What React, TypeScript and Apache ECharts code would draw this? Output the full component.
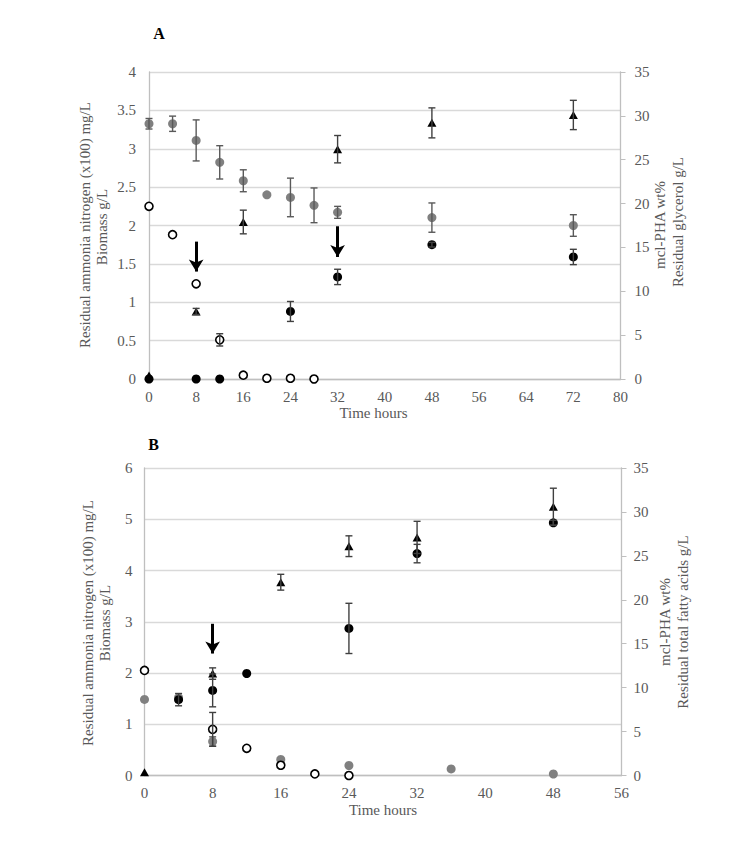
import React, { useEffect, useRef } from "react";
import * as echarts from "echarts";

// ---------- Panel A (glycerol) ----------
const xTicksA = [0, 8, 16, 24, 32, 40, 48, 56, 64, 72, 80];
const glycerolTimeA = [0, 4, 8, 12, 16, 20, 24, 28, 32, 48, 72];
const glycerolA = [29.1, 29.1, 27.2, 24.7, 22.6, 21.0, 20.7, 19.8, 19.0, 18.4, 17.5];
const glycerolErrA = [0.6, 0.87, 2.34, 1.9, 1.25, 0, 2.2, 1.98, 0.68, 1.67, 1.23];

const ammoniaTimeA = [0, 4, 8, 12, 16, 20, 24, 28];
const ammoniaA = [2.25, 1.88, 1.24, 0.51, 0.05, 0.01, 0.01, 0.0];
const ammoniaErrA = [0, 0, 0, 0.08, 0, 0, 0, 0];

const biomassTimeA = [0, 8, 12, 24, 32, 48, 72];
const biomassA = [0, 0, 0, 0.88, 1.33, 1.75, 1.59];
const biomassErrA = [0, 0, 0, 0.13, 0.1, 0.03, 0.1];

const phaTimeA = [0, 8, 16, 32, 48, 72];
const phaA = [0.4, 7.7, 17.9, 26.2, 29.2, 30.1];
const phaErrA = [0, 0.35, 1.35, 1.56, 1.71, 1.67];

const arrowsA = [
  { t: 8, from: 1.79, to: 1.4 },
  { t: 32, from: 1.99, to: 1.59 },
];

// ---------- Panel B (fatty acids) ----------
const xTicksB = [0, 8, 16, 24, 32, 40, 48, 56];
const fattyTimeB = [0, 4, 8, 16, 24, 36, 48];
const fattyB = [8.66, 8.87, 3.87, 1.83, 1.14, 0.75, 0.17];
const fattyErrB = [0, 0, 0.53, 0, 0, 0, 0];

const ammoniaTimeB = [0, 8, 12, 16, 20, 24];
const ammoniaB = [2.05, 0.9, 0.53, 0.2, 0.03, 0.0];
const ammoniaErrB = [0, 0.33, 0, 0, 0, 0];

const biomassTimeB = [4, 8, 12, 24, 32, 48];
const biomassB = [1.48, 1.66, 1.99, 2.87, 4.33, 4.93];
const biomassErrB = [0.12, 0.32, 0, 0.49, 0.18, 0.05];

const phaTimeB = [0, 8, 16, 24, 32, 48];
const phaB = [0.38, 11.6, 22.0, 26.1, 27.1, 30.6];
const phaErrB = [0, 0.65, 0.9, 1.18, 1.83, 2.1];

const arrowsB = [{ t: 8, from: 2.96, to: 2.38 }];

const FONT = "Liberation Serif";
const GREY_TEXT = "#595959";
const AXIS_LINE = "#bfbfbf";
const GRID_LINE = "#d9d9d9";

function pts(t: number[], v: number[]) {
  return t.map((x, i) => [x, v[i]]);
}
function errPts(t: number[], v: number[], e: number[]) {
  const out: number[][] = [];
  t.forEach((x, i) => {
    if (e[i] > 0) out.push([x, v[i] - e[i], v[i] + e[i]]);
  });
  return out;
}

function errorSeries(data: number[][], xi: number, yi: number, color: string) {
  return {
    type: "custom",
    xAxisIndex: xi,
    yAxisIndex: yi,
    data,
    z: 5,
    silent: true,
    renderItem: (params: any, api: any) => {
      const x = api.value(0);
      const lo = api.coord([x, api.value(1)]);
      const hi = api.coord([x, api.value(2)]);
      const w = 3.5;
      const style = { stroke: color, lineWidth: 1.4 };
      return {
        type: "group",
        children: [
          { type: "line", shape: { x1: lo[0], y1: lo[1], x2: hi[0], y2: hi[1] }, style },
          { type: "line", shape: { x1: hi[0] - w, y1: hi[1], x2: hi[0] + w, y2: hi[1] }, style },
          { type: "line", shape: { x1: lo[0] - w, y1: lo[1], x2: lo[0] + w, y2: lo[1] }, style },
        ],
      };
    },
  };
}

function scatter(data: number[][], xi: number, yi: number, kind: string, extra: any = {}) {
  const base: any = {
    type: "scatter",
    xAxisIndex: xi,
    yAxisIndex: yi,
    data,
    z: 4,
    silent: true,
  };
  if (kind === "grey") {
    base.symbol = "circle";
    base.symbolSize = 9;
    base.itemStyle = { color: "#808080", opacity: 1 };
  } else if (kind === "open") {
    base.symbol = "circle";
    base.symbolSize = 8;
    base.itemStyle = { color: "#ffffff", borderColor: "#000000", borderWidth: 1.6, opacity: 1 };
  } else if (kind === "black") {
    base.symbol = "circle";
    base.symbolSize = 9;
    base.itemStyle = { color: "#000000", opacity: 1 };
  } else if (kind === "tri") {
    base.symbol = "triangle";
    base.symbolSize = [9, 8];
    base.itemStyle = { color: "#000000", opacity: 1 };
  }
  return { ...base, ...extra };
}

function arrowMark(arrows: { t: number; from: number; to: number }[]) {
  return {
    silent: true,
    symbol: ["none", "arrow"],
    symbolSize: [11, 12],
    label: { show: false },
    lineStyle: { color: "#000000", width: 3, type: "solid", opacity: 1 },
    data: arrows.map((a) => [
      { coord: [a.t, a.from] },
      { coord: [a.t, a.to] },
    ]),
  };
}

function xAxis(gi: number, max: number) {
  return {
    type: "value",
    gridIndex: gi,
    min: 0,
    max,
    interval: 8,
    axisLine: { show: true, lineStyle: { color: AXIS_LINE, width: 1.3 } },
    axisTick: { show: false },
    axisLabel: { color: GREY_TEXT, fontFamily: FONT, fontSize: 15, margin: 10 },
    splitLine: { show: false },
  };
}
function leftAxis(gi: number, max: number, interval: number, margin: number) {
  return {
    type: "value",
    gridIndex: gi,
    position: "left",
    min: 0,
    max,
    interval,
    axisLine: { show: true, lineStyle: { color: AXIS_LINE, width: 1.3 } },
    axisTick: { show: false },
    axisLabel: { color: GREY_TEXT, fontFamily: FONT, fontSize: 15, margin },
    splitLine: { show: true, lineStyle: { color: GRID_LINE, width: 1.3 } },
  };
}
function rightAxis(gi: number, margin: number) {
  return {
    type: "value",
    gridIndex: gi,
    position: "right",
    min: 0,
    max: 35,
    interval: 5,
    axisLine: { show: true, lineStyle: { color: AXIS_LINE, width: 1.3 } },
    axisTick: { show: true, inside: false, length: 5, lineStyle: { color: AXIS_LINE } },
    axisLabel: { color: GREY_TEXT, fontFamily: FONT, fontSize: 15, margin },
    splitLine: { show: false },
  };
}

function vText(text: string, x: number, y: number) {
  return {
    type: "text",
    x,
    y,
    rotation: Math.PI / 2,
    style: {
      text,
      fill: GREY_TEXT,
      font: `15px "${FONT}"`,
      textAlign: "center",
      textVerticalAlign: "middle",
    },
  };
}
function hText(text: string, x: number, y: number, color = GREY_TEXT, font = `15px "${FONT}"`) {
  return {
    type: "text",
    x,
    y,
    style: { text, fill: color, font, textAlign: "center", textVerticalAlign: "middle" },
  };
}

export default function App() {
  const ref = useRef<HTMLDivElement>(null);
  useEffect(() => {
    document.body.style.margin = "0";
    const chart = echarts.init(ref.current!, null, { renderer: "svg" });
    const option: any = {
      animation: false,
      backgroundColor: "#ffffff",
      grid: [
        { left: 149, top: 72, width: 471.5, height: 307 },
        { left: 144.5, top: 468, width: 477, height: 307.5 },
      ],
      xAxis: [xAxis(0, xTicksA[xTicksA.length - 1]), xAxis(1, xTicksB[xTicksB.length - 1])],
      yAxis: [
        leftAxis(0, 4, 0.5, 13),
        rightAxis(0, 14),
        leftAxis(1, 6, 1, 12),
        rightAxis(1, 12),
      ],
      graphic: [
        hText("A", 159, 33, "#000000", `bold 16px "${FONT}"`),
        hText("B", 153.5, 444, "#000000", `bold 16px "${FONT}"`),
        vText("Residual ammonia nitrogen (x100) mg/L", 85, 225),
        vText("Biomass g/L", 102, 227),
        vText("mcl-PHA wt%", 660, 225),
        vText("Residual glycerol g/L", 678, 222),
        hText("Time hours", 373.5, 413),
        vText("Residual ammonia nitrogen (x100) mg/L", 88, 623),
        vText("Biomass g/L", 105, 623),
        vText("mcl-PHA wt%", 665, 622),
        vText("Residual total fatty acids g/L", 683, 622),
        hText("Time hours", 383, 810),
      ],
      series: [
        // Panel A
        scatter(pts(glycerolTimeA, glycerolA), 0, 1, "grey"),
        scatter(pts(ammoniaTimeA, ammoniaA), 0, 0, "open"),
        scatter(pts(phaTimeA, phaA), 0, 1, "tri"),
        scatter(pts(biomassTimeA, biomassA), 0, 0, "black", { markLine: arrowMark(arrowsA) }),
        errorSeries(errPts(glycerolTimeA, glycerolA, glycerolErrA), 0, 1, "#595959"),
        errorSeries(errPts(ammoniaTimeA, ammoniaA, ammoniaErrA), 0, 0, "#404040"),
        errorSeries(errPts(phaTimeA, phaA, phaErrA), 0, 1, "#404040"),
        errorSeries(errPts(biomassTimeA, biomassA, biomassErrA), 0, 0, "#404040"),
        // Panel B
        scatter(pts(fattyTimeB, fattyB), 1, 3, "grey"),
        scatter(pts(ammoniaTimeB, ammoniaB), 1, 2, "open"),
        scatter(pts(phaTimeB, phaB), 1, 3, "tri"),
        scatter(pts(biomassTimeB, biomassB), 1, 2, "black", { markLine: arrowMark(arrowsB) }),
        errorSeries(errPts(fattyTimeB, fattyB, fattyErrB), 1, 3, "#595959"),
        errorSeries(errPts(ammoniaTimeB, ammoniaB, ammoniaErrB), 1, 2, "#404040"),
        errorSeries(errPts(phaTimeB, phaB, phaErrB), 1, 3, "#404040"),
        errorSeries(errPts(biomassTimeB, biomassB, biomassErrB), 1, 2, "#404040"),
      ],
    };
    chart.setOption(option);
    return () => chart.dispose();
  }, []);
  return <div ref={ref} style={{ width: 751, height: 859 }} />;
}
